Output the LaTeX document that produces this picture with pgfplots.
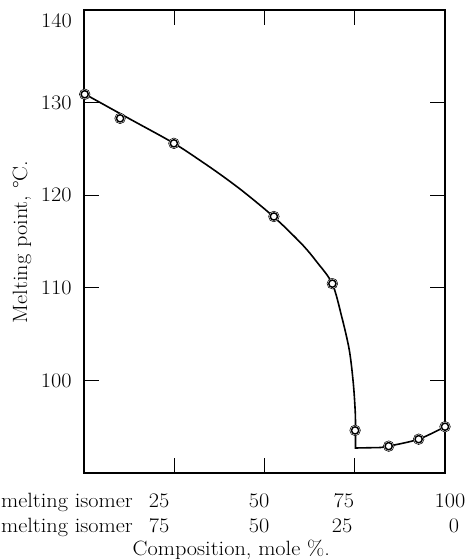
\documentclass[border=0pt]{standalone}
\usepackage{fontspec}
\setmainfont{Latin Modern Roman}[FakeStretch=1.08]
\usepackage{pgfplots}
\pgfplotsset{compat=1.18}
\begin{document}
\fontsize{15.5}{18}\selectfont
\begin{tikzpicture}
\path[use as bounding box, clip] (-63pt,-65.25pt) rectangle (285.75pt,354.75pt);
\begin{axis}[
  at={(0,0)}, anchor=south west,
  scale only axis, width=270.75pt, height=347.25pt,
  xmin=0, xmax=100, ymin=90, ymax=140,
  axis line style={line width=1.3pt},
  xtick={25,50,75}, xticklabels={},
  ytick={100,110,120,130},
  tick style={line width=1pt, black},
  major tick length=11pt, tick align=inside,
  /pgf/number format/assume math mode=true,
  yticklabel style={font=\fontsize{15.5}{18}\selectfont, xshift=-4pt},
  clip=false,
]
% curve
\addplot[black, line width=1.2pt, smooth, tension=0.5] coordinates {
 (0.19,130.93) (12.47,128.28) (24.93,125.60) (33.05,123.52) (38.59,122.01)
 (44.13,120.39) (50.61,118.32) (55.21,116.71) (60.75,114.55) (64.46,112.81)
 (68.78,110.45) (71.39,106.88) (73.49,103.28) (74.60,99.69) (75.15,96.45)
 (75.21,94.10)
};
\addplot[black, line width=1.2pt] coordinates {
 (75.21,94.10) (75.21,92.7) (82,92.75)
};
\addplot[black, line width=1.2pt, smooth] coordinates {
 (82,92.75) (84.4,92.9) (92.7,93.65) (100,95.0)
};
% white halos
\addplot[only marks, mark=*, mark size=4pt, mark options={fill=white, draw=none}] coordinates {
 (0.2,130.9) (10,128.3) (24.9,125.6) (52.6,117.7) (68.8,110.45) (75.1,94.6) (84.4,92.9) (92.7,93.65) (100,95.0)
};
% data points
\addplot[only marks, mark=o, mark size=2.7pt, mark options={line width=1.1pt, fill=white, black}] coordinates {
 (0.2,130.9) (10,128.3) (24.9,125.6) (52.6,117.7) (68.8,110.45) (75.1,94.6) (84.4,92.9) (92.7,93.65) (100,95.0)
};
% top-left 140 label
\node[anchor=east, inner sep=0pt] at (axis cs:-3.3,138.8) {140};
% bottom labels
\node[anchor=base east, inner sep=0pt] at (axis cs:13.6,86.3) {melting isomer};
\node[anchor=base east, inner sep=0pt] at (axis cs:13.6,83.6) {melting isomer};
\node[anchor=base, inner sep=0pt] at (axis cs:20.8,86.3) {25};
\node[anchor=base, inner sep=0pt] at (axis cs:48.5,86.3) {50};
\node[anchor=base, inner sep=0pt] at (axis cs:72.0,86.3) {75};
\node[anchor=base, inner sep=0pt] at (axis cs:101.4,86.3) {100};
\node[anchor=base, inner sep=0pt] at (axis cs:20.8,83.6) {75};
\node[anchor=base, inner sep=0pt] at (axis cs:48.5,83.6) {50};
\node[anchor=base, inner sep=0pt] at (axis cs:71.5,83.6) {25};
\node[anchor=base, inner sep=0pt] at (axis cs:102.5,83.6) {0};
\node[anchor=base, inner sep=0pt] at (axis cs:40.8,81.05) {Composition, mole \%.};
% y label
\node[rotate=90, inner sep=0pt] at (axis cs:-17.2,114.95) {Melting point, °C.};
\end{axis}
\end{tikzpicture}
\end{document}
